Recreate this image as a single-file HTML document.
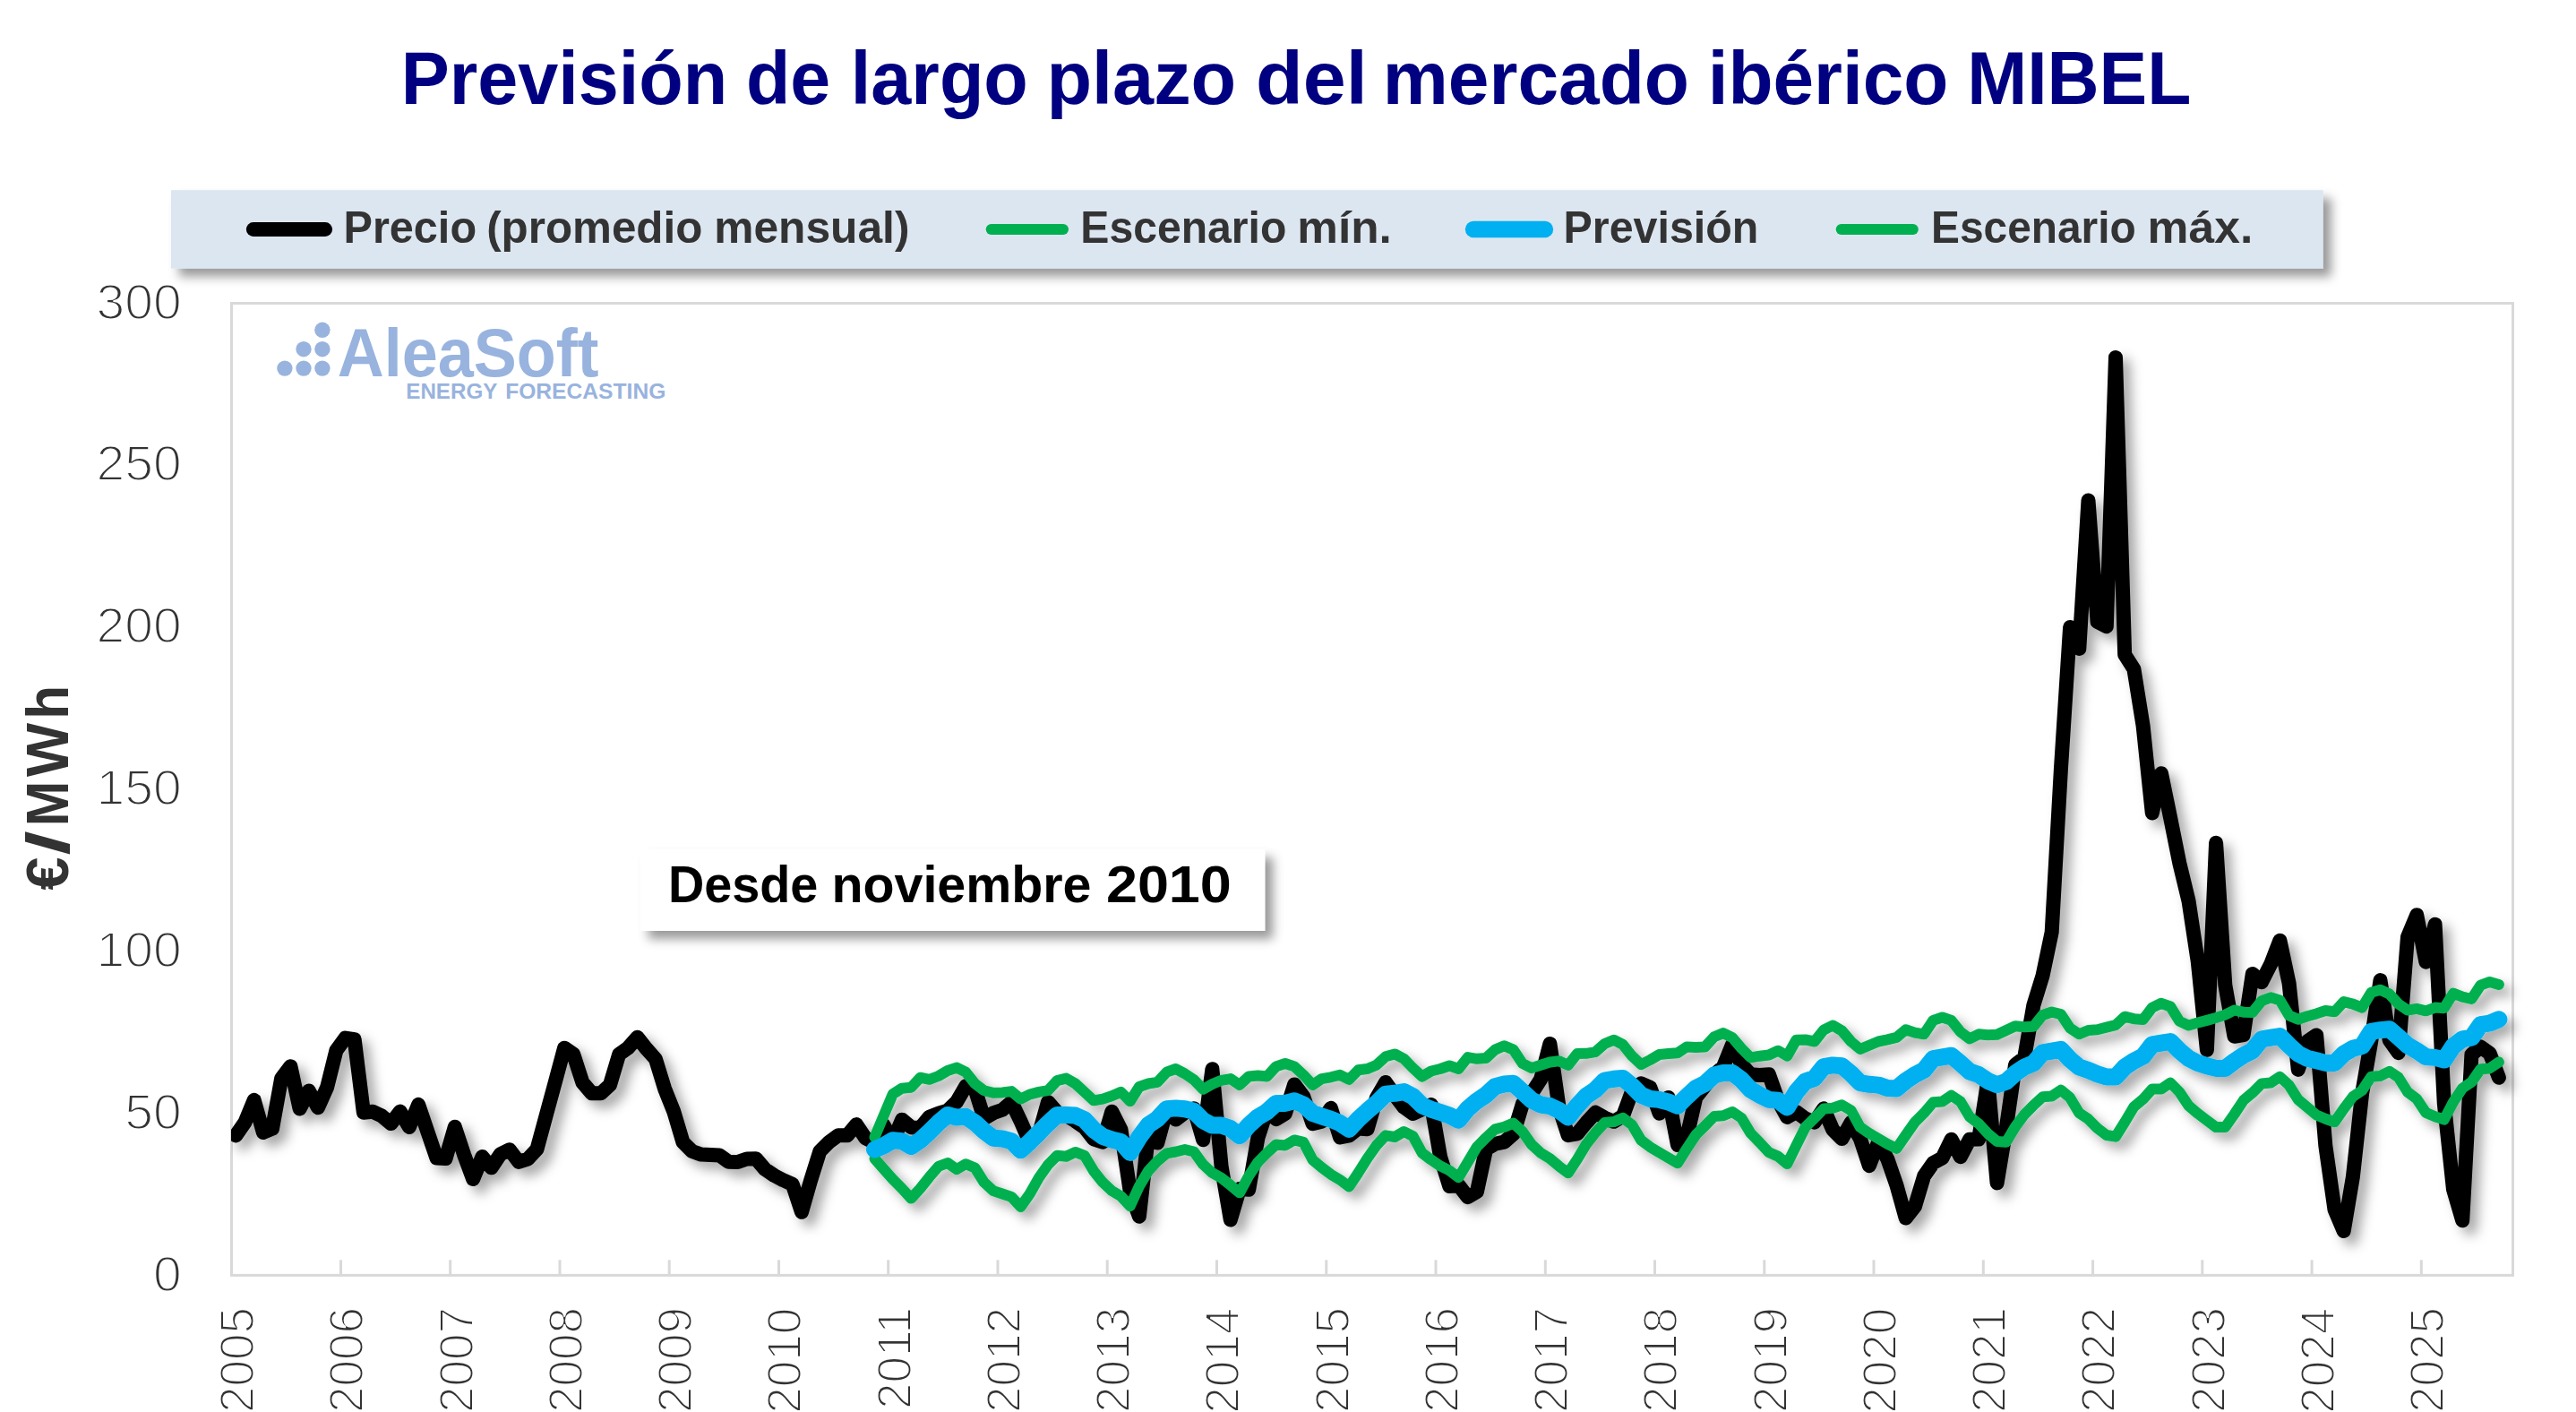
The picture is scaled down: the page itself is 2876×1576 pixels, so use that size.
<!DOCTYPE html>
<html lang="es"><head><meta charset="utf-8"><title>Previsión de largo plazo del mercado ibérico MIBEL</title>
<style>html,body{margin:0;padding:0;background:#fff}body{width:2876px;height:1576px;overflow:hidden}svg{display:block}text{font-family:'Liberation Sans',sans-serif}.ax{stroke:#fff;stroke-width:2px;paint-order:fill stroke}</style></head><body>
<svg width="2876" height="1576" viewBox="0 0 2876 1576">
<defs>
<filter id="sh" filterUnits="userSpaceOnUse" x="200" y="300" width="2676" height="1200"><feDropShadow dx="8.5" dy="8.5" stdDeviation="6.2" flood-color="#000" flood-opacity="0.34"/></filter>
<filter id="shb" filterUnits="userSpaceOnUse" x="100" y="150" width="2700" height="1000"><feDropShadow dx="9" dy="9" stdDeviation="6" flood-color="#000" flood-opacity="0.40"/></filter>
<clipPath id="cp"><rect x="258.0" y="278.5" width="2607.0" height="1204.9"/></clipPath>
</defs>
<rect width="2876" height="1576" fill="#fff"/>
<rect x="190.9" y="212.2" width="2402.8" height="87.5" fill="#dce6f1" filter="url(#shb)"/>
<line x1="282.8" y1="256.0" x2="363.1" y2="256.0" stroke="#000" stroke-width="15.9" stroke-linecap="round"/>
<line x1="1106.7" y1="256.0" x2="1187.0" y2="256.0" stroke="#00b050" stroke-width="12.0" stroke-linecap="round"/>
<line x1="1645.0" y1="256.0" x2="1725.0" y2="256.0" stroke="#00b0f0" stroke-width="18.3" stroke-linecap="round"/>
<line x1="2055.7" y1="256.0" x2="2135.8" y2="256.0" stroke="#00b050" stroke-width="12.0" stroke-linecap="round"/>
<rect x="258.5" y="338.5" width="2547.0" height="1084.9" fill="#fff" stroke="#d9d9d9" stroke-width="3"/>
<line x1="380.5" y1="1406.3" x2="380.5" y2="1423.4" stroke="#d9d9d9" stroke-width="3"/>
<line x1="502.7" y1="1406.3" x2="502.7" y2="1423.4" stroke="#d9d9d9" stroke-width="3"/>
<line x1="625.0" y1="1406.3" x2="625.0" y2="1423.4" stroke="#d9d9d9" stroke-width="3"/>
<line x1="747.2" y1="1406.3" x2="747.2" y2="1423.4" stroke="#d9d9d9" stroke-width="3"/>
<line x1="869.5" y1="1406.3" x2="869.5" y2="1423.4" stroke="#d9d9d9" stroke-width="3"/>
<line x1="991.7" y1="1406.3" x2="991.7" y2="1423.4" stroke="#d9d9d9" stroke-width="3"/>
<line x1="1114.0" y1="1406.3" x2="1114.0" y2="1423.4" stroke="#d9d9d9" stroke-width="3"/>
<line x1="1236.2" y1="1406.3" x2="1236.2" y2="1423.4" stroke="#d9d9d9" stroke-width="3"/>
<line x1="1358.5" y1="1406.3" x2="1358.5" y2="1423.4" stroke="#d9d9d9" stroke-width="3"/>
<line x1="1480.8" y1="1406.3" x2="1480.8" y2="1423.4" stroke="#d9d9d9" stroke-width="3"/>
<line x1="1603.0" y1="1406.3" x2="1603.0" y2="1423.4" stroke="#d9d9d9" stroke-width="3"/>
<line x1="1725.3" y1="1406.3" x2="1725.3" y2="1423.4" stroke="#d9d9d9" stroke-width="3"/>
<line x1="1847.5" y1="1406.3" x2="1847.5" y2="1423.4" stroke="#d9d9d9" stroke-width="3"/>
<line x1="1969.8" y1="1406.3" x2="1969.8" y2="1423.4" stroke="#d9d9d9" stroke-width="3"/>
<line x1="2092.0" y1="1406.3" x2="2092.0" y2="1423.4" stroke="#d9d9d9" stroke-width="3"/>
<line x1="2214.3" y1="1406.3" x2="2214.3" y2="1423.4" stroke="#d9d9d9" stroke-width="3"/>
<line x1="2336.6" y1="1406.3" x2="2336.6" y2="1423.4" stroke="#d9d9d9" stroke-width="3"/>
<line x1="2458.8" y1="1406.3" x2="2458.8" y2="1423.4" stroke="#d9d9d9" stroke-width="3"/>
<line x1="2581.1" y1="1406.3" x2="2581.1" y2="1423.4" stroke="#d9d9d9" stroke-width="3"/>
<line x1="2703.3" y1="1406.3" x2="2703.3" y2="1423.4" stroke="#d9d9d9" stroke-width="3"/>
<text class="ax" x="170.99" y="1440.50" font-size="56" fill="#333" textLength="31.73" lengthAdjust="spacingAndGlyphs">0</text>
<text class="ax" x="139.25" y="1259.68" font-size="56" fill="#333" textLength="63.47" lengthAdjust="spacingAndGlyphs">50</text>
<text class="ax" x="107.52" y="1078.87" font-size="56" fill="#333" textLength="95.20" lengthAdjust="spacingAndGlyphs">100</text>
<text class="ax" x="107.52" y="898.05" font-size="56" fill="#333" textLength="95.20" lengthAdjust="spacingAndGlyphs">150</text>
<text class="ax" x="107.52" y="717.23" font-size="56" fill="#333" textLength="95.20" lengthAdjust="spacingAndGlyphs">200</text>
<text class="ax" x="107.52" y="536.42" font-size="56" fill="#333" textLength="95.20" lengthAdjust="spacingAndGlyphs">250</text>
<text class="ax" x="107.52" y="355.60" font-size="56" fill="#333" textLength="95.20" lengthAdjust="spacingAndGlyphs">300</text>
<text class="ax" transform="translate(283.10,1576.97) rotate(-90)" font-size="53" fill="#333" textLength="118.12" lengthAdjust="spacingAndGlyphs">2005</text>
<text class="ax" transform="translate(405.36,1576.97) rotate(-90)" font-size="53" fill="#333" textLength="118.12" lengthAdjust="spacingAndGlyphs">2006</text>
<text class="ax" transform="translate(527.61,1576.97) rotate(-90)" font-size="53" fill="#333" textLength="118.12" lengthAdjust="spacingAndGlyphs">2007</text>
<text class="ax" transform="translate(649.87,1576.97) rotate(-90)" font-size="53" fill="#333" textLength="118.12" lengthAdjust="spacingAndGlyphs">2008</text>
<text class="ax" transform="translate(772.12,1576.97) rotate(-90)" font-size="53" fill="#333" textLength="118.12" lengthAdjust="spacingAndGlyphs">2009</text>
<text class="ax" transform="translate(894.38,1577.80) rotate(-90)" font-size="53" fill="#333" textLength="118.12" lengthAdjust="spacingAndGlyphs">2010</text>
<text class="ax" transform="translate(1016.64,1573.03) rotate(-90)" font-size="53" fill="#333" textLength="114.18" lengthAdjust="spacingAndGlyphs">2011</text>
<text class="ax" transform="translate(1138.89,1576.97) rotate(-90)" font-size="53" fill="#333" textLength="118.12" lengthAdjust="spacingAndGlyphs">2012</text>
<text class="ax" transform="translate(1261.15,1576.97) rotate(-90)" font-size="53" fill="#333" textLength="118.12" lengthAdjust="spacingAndGlyphs">2013</text>
<text class="ax" transform="translate(1383.40,1577.80) rotate(-90)" font-size="53" fill="#333" textLength="118.12" lengthAdjust="spacingAndGlyphs">2014</text>
<text class="ax" transform="translate(1505.66,1576.97) rotate(-90)" font-size="53" fill="#333" textLength="118.12" lengthAdjust="spacingAndGlyphs">2015</text>
<text class="ax" transform="translate(1627.92,1576.97) rotate(-90)" font-size="53" fill="#333" textLength="118.12" lengthAdjust="spacingAndGlyphs">2016</text>
<text class="ax" transform="translate(1750.17,1576.97) rotate(-90)" font-size="53" fill="#333" textLength="118.12" lengthAdjust="spacingAndGlyphs">2017</text>
<text class="ax" transform="translate(1872.43,1576.97) rotate(-90)" font-size="53" fill="#333" textLength="118.12" lengthAdjust="spacingAndGlyphs">2018</text>
<text class="ax" transform="translate(1994.68,1576.97) rotate(-90)" font-size="53" fill="#333" textLength="118.12" lengthAdjust="spacingAndGlyphs">2019</text>
<text class="ax" transform="translate(2116.94,1577.80) rotate(-90)" font-size="53" fill="#333" textLength="118.12" lengthAdjust="spacingAndGlyphs">2020</text>
<text class="ax" transform="translate(2239.20,1576.97) rotate(-90)" font-size="53" fill="#333" textLength="118.12" lengthAdjust="spacingAndGlyphs">2021</text>
<text class="ax" transform="translate(2361.45,1576.97) rotate(-90)" font-size="53" fill="#333" textLength="118.12" lengthAdjust="spacingAndGlyphs">2022</text>
<text class="ax" transform="translate(2483.71,1576.97) rotate(-90)" font-size="53" fill="#333" textLength="118.12" lengthAdjust="spacingAndGlyphs">2023</text>
<text class="ax" transform="translate(2605.96,1577.80) rotate(-90)" font-size="53" fill="#333" textLength="118.12" lengthAdjust="spacingAndGlyphs">2024</text>
<text class="ax" transform="translate(2728.22,1576.97) rotate(-90)" font-size="53" fill="#333" textLength="118.12" lengthAdjust="spacingAndGlyphs">2025</text>
<circle cx="317.9" cy="411.1" r="8.7" fill="#98b3de"/>
<circle cx="339.0" cy="411.1" r="8.7" fill="#98b3de"/>
<circle cx="359.9" cy="411.1" r="8.7" fill="#98b3de"/>
<circle cx="339.0" cy="389.7" r="8.7" fill="#98b3de"/>
<circle cx="359.9" cy="389.7" r="8.7" fill="#98b3de"/>
<circle cx="359.9" cy="368.3" r="8.7" fill="#98b3de"/>
<rect x="714.8" y="947.9" width="697.4" height="91.1" fill="#fff" filter="url(#shb)"/>
<text y="116.00" font-size="83.00" font-weight="700" fill="#000080"><tspan x="447.74" textLength="364.37" lengthAdjust="spacingAndGlyphs">Previsión</tspan> <tspan x="832.88" textLength="94.23" lengthAdjust="spacingAndGlyphs">de</tspan> <tspan x="949.84" textLength="198.01" lengthAdjust="spacingAndGlyphs">largo</tspan> <tspan x="1168.52" textLength="211.69" lengthAdjust="spacingAndGlyphs">plazo</tspan> <tspan x="1402.01" textLength="124.59" lengthAdjust="spacingAndGlyphs">del</tspan> <tspan x="1543.87" textLength="342.11" lengthAdjust="spacingAndGlyphs">mercado</tspan> <tspan x="1906.68" textLength="268.70" lengthAdjust="spacingAndGlyphs">ibérico</tspan> <tspan x="2196.17" textLength="250.20" lengthAdjust="spacingAndGlyphs">MIBEL</tspan></text>
<text y="271.20" font-size="49.10" font-weight="700" fill="#333333"><tspan x="383.46" textLength="148.63" lengthAdjust="spacingAndGlyphs">Precio</tspan> <tspan x="543.19" textLength="241.13" lengthAdjust="spacingAndGlyphs">(promedio</tspan> <tspan x="797.29" textLength="218.20" lengthAdjust="spacingAndGlyphs">mensual)</tspan></text>
<text y="271.20" font-size="49.10" font-weight="700" fill="#333333"><tspan x="1206.29" textLength="230.08" lengthAdjust="spacingAndGlyphs">Escenario</tspan> <tspan x="1448.39" textLength="105.44" lengthAdjust="spacingAndGlyphs">mín.</tspan></text>
<text y="271.20" font-size="49.10" font-weight="700" fill="#333333"><tspan x="1745.58" textLength="217.86" lengthAdjust="spacingAndGlyphs">Previsión</tspan></text>
<text y="271.20" font-size="49.10" font-weight="700" fill="#333333"><tspan x="2156.01" textLength="228.76" lengthAdjust="spacingAndGlyphs">Escenario</tspan> <tspan x="2397.57" textLength="117.68" lengthAdjust="spacingAndGlyphs">máx.</tspan></text>
<text y="1007.20" font-size="56.80" font-weight="700" fill="#000"><tspan x="745.91" textLength="167.48" lengthAdjust="spacingAndGlyphs">Desde</tspan> <tspan x="928.52" textLength="289.91" lengthAdjust="spacingAndGlyphs">noviembre</tspan> <tspan x="1234.93" textLength="139.91" lengthAdjust="spacingAndGlyphs">2010</tspan></text>
<text y="419.90" font-size="75.50" font-weight="700" fill="#98b3de"><tspan x="376.78" textLength="291.78" lengthAdjust="spacingAndGlyphs">AleaSoft</tspan></text>
<text y="445.40" font-size="24.30" font-weight="700" fill="#98b3de"><tspan x="453.32" textLength="101.59" lengthAdjust="spacingAndGlyphs">ENERGY</tspan> <tspan x="564.18" textLength="179.14" lengthAdjust="spacingAndGlyphs">FORECASTING</tspan></text>
<text y="0.00" font-size="66.70" font-weight="700" fill="#333333" transform="translate(76,993.4) rotate(-90)"><tspan x="0.00" textLength="36.92" lengthAdjust="spacingAndGlyphs">€</tspan><tspan x="39.00" textLength="27.26" lengthAdjust="spacingAndGlyphs">/</tspan><tspan x="71.10" textLength="50.65" lengthAdjust="spacingAndGlyphs">M</tspan><tspan x="126.50" textLength="60.11" lengthAdjust="spacingAndGlyphs">W</tspan><tspan x="190.74" textLength="37.75" lengthAdjust="spacingAndGlyphs">h</tspan></text>
<g clip-path="url(#cp)"><g filter="url(#sh)">
<path d="M263.3,1267.4 L273.5,1252.6 L283.7,1227.8 L293.9,1264.0 L304.0,1259.7 L314.2,1203.5 L324.4,1190.2 L334.6,1237.5 L344.8,1217.5 L355.0,1236.3 L365.2,1213.4 L375.4,1172.5 L385.6,1158.6 L395.7,1160.2 L405.9,1241.8 L416.1,1240.8 L426.3,1245.6 L436.5,1254.1 L446.7,1240.6 L456.9,1258.0 L467.1,1232.9 L477.2,1262.6 L487.4,1292.5 L497.6,1293.0 L507.8,1257.7 L518.0,1288.6 L528.2,1316.1 L538.4,1291.0 L548.6,1303.3 L558.7,1288.3 L568.9,1283.3 L579.1,1296.8 L589.3,1293.7 L599.5,1282.6 L609.7,1245.0 L619.9,1207.5 L630.1,1169.7 L640.2,1176.7 L650.4,1208.3 L660.6,1220.3 L670.8,1220.3 L681.0,1210.9 L691.2,1176.7 L701.4,1169.4 L711.6,1157.8 L721.8,1170.7 L731.9,1182.0 L742.1,1215.2 L752.3,1240.8 L762.5,1274.9 L772.7,1285.0 L782.9,1288.6 L793.1,1289.1 L803.3,1289.6 L813.4,1296.8 L823.6,1297.1 L833.8,1293.4 L844.0,1293.2 L854.2,1305.2 L864.4,1312.0 L874.6,1317.3 L884.8,1321.9 L895.0,1352.8 L905.1,1317.6 L915.3,1285.2 L925.5,1274.9 L935.7,1267.3 L945.9,1267.3 L956.1,1255.1 L966.3,1270.4 L976.5,1275.4 L986.6,1255.9 L996.8,1274.4 L1007.0,1249.7 L1017.2,1258.2 L1027.4,1259.1 L1037.6,1246.6 L1047.8,1242.6 L1058.0,1239.6 L1068.1,1229.8 L1078.3,1212.2 L1088.5,1215.6 L1098.7,1248.4 L1108.9,1242.3 L1119.1,1238.8 L1129.3,1230.0 L1139.5,1251.4 L1149.7,1274.8 L1159.8,1266.1 L1170.0,1229.9 L1180.2,1241.5 L1190.4,1245.0 L1200.6,1251.3 L1210.8,1258.3 L1221.0,1271.3 L1231.2,1274.7 L1241.3,1240.7 L1251.5,1260.8 L1261.7,1329.7 L1271.9,1357.7 L1282.1,1266.3 L1292.3,1275.6 L1302.5,1238.4 L1312.7,1249.5 L1322.8,1241.9 L1333.0,1237.2 L1343.2,1272.2 L1353.4,1193.3 L1363.6,1301.8 L1373.8,1361.5 L1384.0,1327.0 L1394.2,1327.8 L1404.4,1270.0 L1414.5,1239.1 L1424.7,1249.1 L1434.9,1242.9 L1445.1,1210.4 L1455.3,1224.1 L1465.5,1254.2 L1475.7,1251.7 L1485.9,1236.8 L1496.0,1269.5 L1506.2,1267.4 L1516.4,1259.4 L1526.6,1260.2 L1536.8,1225.5 L1547.0,1208.0 L1557.2,1222.4 L1567.4,1235.8 L1577.5,1242.9 L1587.7,1238.2 L1597.9,1233.1 L1608.1,1291.3 L1618.3,1324.0 L1628.5,1322.9 L1638.7,1336.2 L1648.9,1330.2 L1659.1,1282.7 L1669.2,1276.8 L1679.4,1274.6 L1689.6,1265.8 L1699.8,1232.3 L1710.0,1220.4 L1720.2,1204.6 L1730.4,1164.9 L1740.6,1236.3 L1750.7,1267.2 L1760.9,1265.4 L1771.1,1253.0 L1781.3,1241.8 L1791.5,1247.5 L1801.7,1251.8 L1811.9,1245.7 L1822.1,1218.1 L1832.2,1209.3 L1842.4,1213.9 L1852.6,1242.7 L1862.8,1224.9 L1873.0,1278.1 L1883.2,1269.1 L1893.4,1224.8 L1903.6,1212.0 L1913.8,1199.6 L1923.9,1190.8 L1934.1,1165.7 L1944.3,1188.0 L1954.5,1199.3 L1964.7,1199.9 L1974.9,1199.2 L1985.1,1228.1 L1995.3,1246.9 L2005.4,1241.1 L2015.6,1248.4 L2025.8,1252.7 L2036.0,1237.3 L2046.2,1260.8 L2056.4,1271.1 L2066.6,1252.8 L2076.8,1270.8 L2086.9,1301.2 L2097.1,1274.8 L2107.3,1293.7 L2117.5,1323.1 L2127.7,1359.6 L2137.9,1346.6 L2148.1,1312.7 L2158.3,1298.1 L2168.5,1292.5 L2178.6,1271.7 L2188.8,1291.2 L2199.0,1271.7 L2209.2,1271.6 L2219.4,1205.8 L2229.6,1320.4 L2239.8,1259.1 L2250.0,1188.3 L2260.1,1180.7 L2270.3,1122.2 L2280.5,1089.2 L2290.7,1040.3 L2300.9,858.7 L2311.1,699.9 L2321.3,723.9 L2331.5,558.5 L2341.6,693.9 L2351.8,699.3 L2362.0,398.9 L2372.2,730.8 L2382.4,746.7 L2392.6,810.0 L2402.8,907.5 L2413.0,863.3 L2423.2,913.2 L2433.3,963.4 L2443.5,1005.5 L2453.7,1072.8 L2463.9,1171.9 L2474.1,940.7 L2484.3,1099.3 L2494.5,1156.8 L2504.7,1155.0 L2514.8,1087.0 L2525.0,1096.2 L2535.2,1076.1 L2545.4,1049.7 L2555.6,1097.4 L2565.8,1193.9 L2576.0,1162.4 L2586.2,1155.4 L2596.3,1278.7 L2606.5,1350.0 L2616.7,1374.0 L2626.9,1313.5 L2637.1,1220.6 L2647.3,1161.9 L2657.5,1094.1 L2667.7,1160.8 L2677.8,1175.2 L2688.0,1045.7 L2698.2,1021.2 L2708.4,1073.7 L2718.6,1031.8 L2728.8,1231.7 L2739.0,1327.6 L2749.2,1362.3 L2759.4,1177.1 L2769.5,1168.4 L2779.7,1175.7 L2789.9,1202.8" stroke="#000" stroke-width="16" fill="none" stroke-linejoin="round" stroke-linecap="round"/>
<path d="M976.5,1293.2 L986.6,1304.8 L996.8,1316.3 L1007.0,1326.5 L1017.2,1337.6 L1027.4,1326.5 L1037.6,1313.7 L1047.8,1301.8 L1058.0,1298.0 L1068.1,1305.2 L1078.3,1299.2 L1088.5,1303.5 L1098.7,1319.7 L1108.9,1329.1 L1119.1,1332.5 L1129.3,1335.9 L1139.5,1347.0 L1149.7,1332.5 L1159.8,1314.6 L1170.0,1300.1 L1180.2,1289.8 L1190.4,1290.7 L1200.6,1285.9 L1210.8,1289.8 L1221.0,1306.9 L1231.2,1319.7 L1241.3,1329.1 L1251.5,1335.1 L1261.7,1346.2 L1271.9,1324.0 L1282.1,1306.9 L1292.3,1295.8 L1302.5,1287.3 L1312.7,1285.5 L1322.8,1283.0 L1333.0,1285.5 L1343.2,1299.7 L1353.4,1309.1 L1363.6,1314.7 L1373.8,1322.8 L1384.0,1331.3 L1394.2,1312.5 L1404.4,1297.1 L1414.5,1286.9 L1424.7,1277.5 L1434.9,1278.4 L1445.1,1272.4 L1455.3,1274.9 L1465.5,1294.6 L1475.7,1303.1 L1485.9,1310.8 L1496.0,1316.8 L1506.2,1324.5 L1516.4,1309.1 L1526.6,1292.9 L1536.8,1278.4 L1547.0,1267.3 L1557.2,1269.0 L1567.4,1263.0 L1577.5,1268.1 L1587.7,1286.9 L1597.9,1294.6 L1608.1,1301.4 L1618.3,1306.5 L1628.5,1314.2 L1638.7,1297.1 L1648.9,1280.1 L1659.1,1269.8 L1669.2,1260.4 L1679.4,1257.9 L1689.6,1253.6 L1699.8,1263.0 L1710.0,1277.5 L1720.2,1286.9 L1730.4,1293.1 L1740.6,1301.7 L1750.7,1309.3 L1760.9,1294.0 L1771.1,1276.9 L1781.3,1264.1 L1791.5,1253.0 L1801.7,1252.1 L1811.9,1247.9 L1822.1,1255.5 L1832.2,1272.6 L1842.4,1280.3 L1852.6,1286.3 L1862.8,1292.3 L1873.0,1298.2 L1883.2,1282.0 L1893.4,1266.6 L1903.6,1256.4 L1913.8,1246.1 L1923.9,1245.3 L1934.1,1241.0 L1944.3,1247.9 L1954.5,1264.9 L1964.7,1275.2 L1974.9,1286.3 L1985.1,1290.6 L1995.3,1299.1 L2005.4,1278.6 L2015.6,1258.1 L2025.8,1247.9 L2036.0,1237.6 L2046.2,1236.8 L2056.4,1233.3 L2066.6,1239.3 L2076.8,1258.1 L2086.9,1264.9 L2097.1,1270.9 L2107.3,1276.9 L2117.5,1281.9 L2127.7,1267.0 L2137.9,1252.5 L2148.1,1242.3 L2158.3,1230.3 L2168.5,1229.5 L2178.6,1222.6 L2188.8,1229.5 L2199.0,1246.5 L2209.2,1254.2 L2219.4,1265.3 L2229.6,1273.9 L2239.8,1274.7 L2250.0,1257.6 L2260.1,1244.0 L2270.3,1233.7 L2280.5,1224.3 L2290.7,1223.5 L2300.9,1216.6 L2311.1,1225.2 L2321.3,1242.3 L2331.5,1249.1 L2341.6,1259.3 L2351.8,1267.0 L2362.0,1268.7 L2372.2,1252.5 L2382.4,1235.4 L2392.6,1226.9 L2402.8,1215.4 L2413.0,1215.4 L2423.2,1208.6 L2433.3,1218.9 L2443.5,1234.2 L2453.7,1242.8 L2463.9,1250.5 L2474.1,1258.1 L2484.3,1258.1 L2494.5,1243.6 L2504.7,1228.2 L2514.8,1219.7 L2525.0,1209.5 L2535.2,1208.6 L2545.4,1201.8 L2555.6,1211.2 L2565.8,1227.4 L2576.0,1235.9 L2586.2,1244.5 L2596.3,1248.7 L2606.5,1252.2 L2616.7,1237.6 L2626.9,1224.0 L2637.1,1217.1 L2647.3,1201.8 L2657.5,1200.9 L2667.7,1195.8 L2677.8,1202.6 L2688.0,1218.9 L2698.2,1226.5 L2708.4,1241.9 L2718.6,1246.2 L2728.8,1249.6 L2739.0,1230.0 L2749.2,1214.6 L2759.4,1207.7 L2769.5,1193.2 L2779.7,1192.4 L2789.9,1185.5" stroke="#00b050" stroke-width="12" fill="none" stroke-linejoin="round" stroke-linecap="round"/>
<path d="M976.5,1269.3 L986.6,1245.2 L996.8,1221.1 L1007.0,1214.7 L1017.2,1213.8 L1027.4,1202.7 L1037.6,1204.8 L1047.8,1201.0 L1058.0,1195.0 L1068.1,1191.6 L1078.3,1196.7 L1088.5,1209.5 L1098.7,1217.2 L1108.9,1219.8 L1119.1,1219.4 L1129.3,1218.1 L1139.5,1226.6 L1149.7,1221.5 L1159.8,1218.9 L1170.0,1217.2 L1180.2,1206.1 L1190.4,1203.6 L1200.6,1209.5 L1210.8,1218.9 L1221.0,1228.3 L1231.2,1226.6 L1241.3,1223.2 L1251.5,1218.9 L1261.7,1229.2 L1271.9,1213.0 L1282.1,1209.5 L1292.3,1207.8 L1302.5,1196.7 L1312.7,1193.0 L1322.8,1198.4 L1333.0,1205.3 L1343.2,1215.7 L1353.4,1210.0 L1363.6,1205.8 L1373.8,1204.1 L1384.0,1210.9 L1394.2,1201.5 L1404.4,1200.6 L1414.5,1201.5 L1424.7,1190.4 L1434.9,1187.0 L1445.1,1190.4 L1455.3,1199.8 L1465.5,1210.9 L1475.7,1204.1 L1485.9,1202.3 L1496.0,1199.8 L1506.2,1204.9 L1516.4,1194.3 L1526.6,1193.0 L1536.8,1188.7 L1547.0,1179.3 L1557.2,1176.4 L1567.4,1181.8 L1577.5,1192.1 L1587.7,1201.5 L1597.9,1195.5 L1608.1,1193.0 L1618.3,1189.5 L1628.5,1193.0 L1638.7,1180.1 L1648.9,1181.8 L1659.1,1181.0 L1669.2,1171.6 L1679.4,1167.3 L1689.6,1171.6 L1699.8,1187.0 L1710.0,1192.1 L1720.2,1188.7 L1730.4,1185.5 L1740.6,1184.3 L1750.7,1188.9 L1760.9,1176.1 L1771.1,1175.8 L1781.3,1174.1 L1791.5,1165.0 L1801.7,1160.7 L1811.9,1165.9 L1822.1,1178.7 L1832.2,1188.1 L1842.4,1183.0 L1852.6,1177.0 L1862.8,1176.1 L1873.0,1175.3 L1883.2,1168.4 L1893.4,1168.9 L1903.6,1168.4 L1913.8,1157.3 L1923.9,1153.1 L1934.1,1158.2 L1944.3,1170.1 L1954.5,1180.4 L1964.7,1178.7 L1974.9,1177.5 L1985.1,1172.7 L1995.3,1178.7 L2005.4,1160.7 L2015.6,1160.4 L2025.8,1162.5 L2036.0,1149.6 L2046.2,1144.5 L2056.4,1150.5 L2066.6,1162.5 L2076.8,1171.0 L2086.9,1166.7 L2097.1,1162.5 L2107.3,1160.4 L2117.5,1157.9 L2127.7,1149.2 L2137.9,1152.6 L2148.1,1154.3 L2158.3,1138.9 L2168.5,1135.5 L2178.6,1138.9 L2188.8,1151.7 L2199.0,1159.4 L2209.2,1154.3 L2219.4,1155.2 L2229.6,1154.8 L2239.8,1150.0 L2250.0,1145.2 L2260.1,1146.3 L2270.3,1145.8 L2280.5,1133.0 L2290.7,1129.5 L2300.9,1132.1 L2311.1,1147.5 L2321.3,1154.3 L2331.5,1150.0 L2341.6,1149.2 L2351.8,1146.6 L2362.0,1144.1 L2372.2,1134.7 L2382.4,1137.2 L2392.6,1138.1 L2402.8,1124.6 L2413.0,1119.8 L2423.2,1123.5 L2433.3,1139.9 L2443.5,1144.5 L2453.7,1141.6 L2463.9,1138.9 L2474.1,1136.0 L2484.3,1132.6 L2494.5,1127.5 L2504.7,1129.7 L2514.8,1130.0 L2525.0,1117.2 L2535.2,1113.3 L2545.4,1116.4 L2555.6,1133.4 L2565.8,1137.7 L2576.0,1134.3 L2586.2,1131.4 L2596.3,1128.0 L2606.5,1129.2 L2616.7,1118.1 L2626.9,1120.6 L2637.1,1124.6 L2647.3,1107.8 L2657.5,1104.8 L2667.7,1109.5 L2677.8,1120.6 L2688.0,1127.5 L2698.2,1125.8 L2708.4,1128.3 L2718.6,1124.6 L2728.8,1125.2 L2739.0,1108.7 L2749.2,1112.6 L2759.4,1115.0 L2769.5,1099.6 L2779.7,1095.9 L2789.9,1098.9" stroke="#00b050" stroke-width="12" fill="none" stroke-linejoin="round" stroke-linecap="round"/>
<path d="M976.5,1283.0 L986.6,1278.7 L996.8,1272.7 L1007.0,1273.6 L1017.2,1279.6 L1027.4,1272.7 L1037.6,1263.3 L1047.8,1253.1 L1058.0,1244.5 L1068.1,1247.1 L1078.3,1246.3 L1088.5,1253.1 L1098.7,1262.5 L1108.9,1270.2 L1119.1,1271.0 L1129.3,1273.6 L1139.5,1283.8 L1149.7,1274.4 L1159.8,1264.2 L1170.0,1253.9 L1180.2,1244.5 L1190.4,1244.5 L1200.6,1245.1 L1210.8,1249.7 L1221.0,1260.8 L1231.2,1268.5 L1241.3,1271.9 L1251.5,1274.4 L1261.7,1286.4 L1271.9,1269.3 L1282.1,1255.7 L1292.3,1248.8 L1302.5,1237.7 L1312.7,1236.9 L1322.8,1237.7 L1333.0,1240.3 L1343.2,1250.7 L1353.4,1256.1 L1363.6,1256.1 L1373.8,1259.6 L1384.0,1267.8 L1394.2,1256.1 L1404.4,1246.8 L1414.5,1240.8 L1424.7,1231.4 L1434.9,1231.4 L1445.1,1228.8 L1455.3,1233.1 L1465.5,1242.5 L1475.7,1245.9 L1485.9,1249.3 L1496.0,1253.6 L1506.2,1260.4 L1516.4,1249.3 L1526.6,1239.9 L1536.8,1231.4 L1547.0,1221.1 L1557.2,1220.3 L1567.4,1218.6 L1577.5,1223.7 L1587.7,1233.9 L1597.9,1238.2 L1608.1,1241.6 L1618.3,1245.0 L1628.5,1250.2 L1638.7,1237.4 L1648.9,1228.8 L1659.1,1222.0 L1669.2,1212.6 L1679.4,1210.0 L1689.6,1209.2 L1699.8,1218.6 L1710.0,1228.0 L1720.2,1233.1 L1730.4,1234.5 L1740.6,1239.3 L1750.7,1247.0 L1760.9,1234.2 L1771.1,1223.1 L1781.3,1216.3 L1791.5,1206.0 L1801.7,1204.3 L1811.9,1203.4 L1822.1,1212.0 L1832.2,1222.2 L1842.4,1226.5 L1852.6,1227.4 L1862.8,1229.9 L1873.0,1234.2 L1883.2,1223.9 L1893.4,1214.5 L1903.6,1209.4 L1913.8,1200.0 L1923.9,1197.5 L1934.1,1197.5 L1944.3,1205.2 L1954.5,1216.3 L1964.7,1222.2 L1974.9,1227.4 L1985.1,1228.2 L1995.3,1235.9 L2005.4,1218.8 L2015.6,1206.9 L2025.8,1203.4 L2036.0,1190.6 L2046.2,1188.9 L2056.4,1189.8 L2066.6,1198.3 L2076.8,1208.6 L2086.9,1210.3 L2097.1,1211.1 L2107.3,1214.5 L2117.5,1214.9 L2127.7,1206.4 L2137.9,1199.6 L2148.1,1194.4 L2158.3,1181.6 L2168.5,1179.9 L2178.6,1178.2 L2188.8,1186.8 L2199.0,1196.1 L2209.2,1199.6 L2219.4,1206.4 L2229.6,1210.7 L2239.8,1207.3 L2250.0,1197.9 L2260.1,1191.0 L2270.3,1186.8 L2280.5,1174.8 L2290.7,1173.1 L2300.9,1171.4 L2311.1,1182.5 L2321.3,1191.0 L2331.5,1194.4 L2341.6,1198.7 L2351.8,1202.1 L2362.0,1202.1 L2372.2,1191.0 L2382.4,1184.2 L2392.6,1179.1 L2402.8,1165.9 L2413.0,1164.2 L2423.2,1162.5 L2433.3,1172.7 L2443.5,1181.3 L2453.7,1186.4 L2463.9,1189.8 L2474.1,1192.4 L2484.3,1192.4 L2494.5,1184.7 L2504.7,1177.9 L2514.8,1172.7 L2525.0,1159.9 L2535.2,1158.2 L2545.4,1156.5 L2555.6,1166.8 L2565.8,1176.1 L2576.0,1181.3 L2586.2,1183.8 L2596.3,1186.4 L2606.5,1186.4 L2616.7,1176.1 L2626.9,1170.2 L2637.1,1167.6 L2647.3,1151.4 L2657.5,1149.7 L2667.7,1148.8 L2677.8,1157.4 L2688.0,1166.8 L2698.2,1172.7 L2708.4,1179.6 L2718.6,1180.4 L2728.8,1183.0 L2739.0,1167.6 L2749.2,1159.9 L2759.4,1158.2 L2769.5,1143.7 L2779.7,1142.0 L2789.9,1137.7" stroke="#00b0f0" stroke-width="19" fill="none" stroke-linejoin="round" stroke-linecap="round"/>
</g></g>
</svg></body></html>
